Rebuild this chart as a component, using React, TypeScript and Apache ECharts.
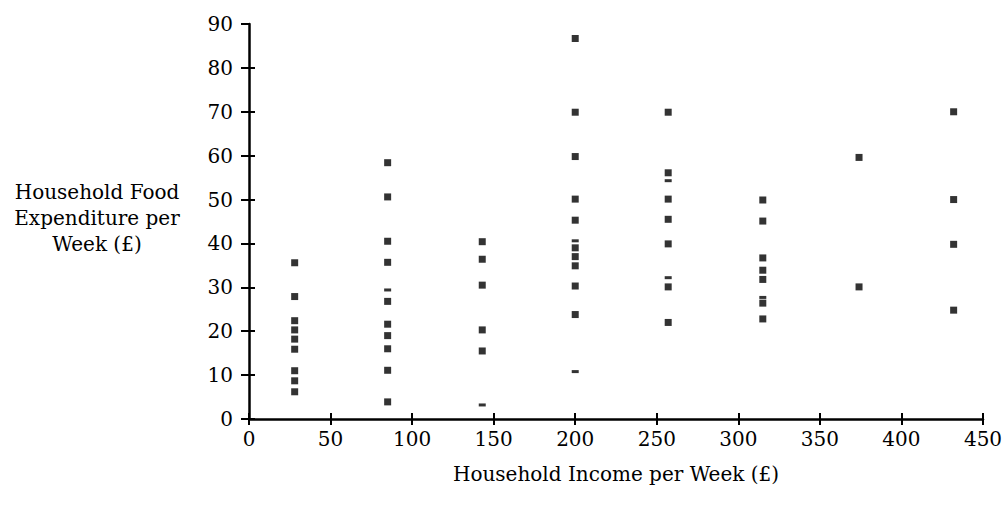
import React, { useEffect, useRef } from "react";
import * as echarts from "echarts";

// Household income groups (£ per week) and food expenditure (£ per week)
const incomes = [28, 85, 143, 200, 257, 315, 374, 432];
const expenditure: number[][] = [
  [35.6, 27.9, 22.4, 20.3, 18.2, 15.9, 11.0, 8.7, 6.2],
  [58.4, 50.6, 40.5, 35.7, 26.8, 21.6, 19.0, 16.0, 11.1, 3.9],
  [40.4, 36.4, 30.5, 20.3, 15.5],
  [86.7, 69.9, 59.8, 50.1, 45.3, 39.0, 37.0, 34.9, 30.3, 23.8],
  [69.9, 56.1, 50.1, 45.5, 39.9, 30.1, 22.0],
  [49.9, 45.1, 36.7, 33.9, 31.8, 26.4, 22.8],
  [59.6, 30.1],
  [70.0, 50.0, 39.8, 24.8],
];
// faintly printed (dash-like) points
const faint: number[][] = [
  [],
  [29.4],
  [3.2],
  [40.6, 10.8],
  [54.3, 32.2],
  [27.7],
  [],
  [],
];
const xTicks = [0, 50, 100, 150, 200, 250, 300, 350, 400, 450];
const yTicks = [0, 10, 20, 30, 40, 50, 60, 70, 80, 90];

const FONT = "DejaVu Serif";

export default function App() {
  const ref = useRef<HTMLDivElement>(null);
  useEffect(() => {
    if (!ref.current) return;
    const chart = echarts.init(ref.current, undefined, { renderer: "svg" });
    const full: number[][] = [];
    incomes.forEach((x, i) => expenditure[i].forEach((y) => full.push([x, y])));
    const dash: number[][] = [];
    incomes.forEach((x, i) => faint[i].forEach((y) => dash.push([x, y])));
    const axisCommon = {
      type: "value" as const,
      splitLine: { show: false },
    };
    chart.setOption({
      animation: false,
      backgroundColor: "#fff",
      grid: { left: 249, right: 22, top: 24, bottom: 89, outerBoundsMode: "none", containLabel: false },
      xAxis: [
        {
          ...axisCommon,
          min: xTicks[0],
          max: xTicks[xTicks.length - 1],
          interval: 50,
          axisLine: { lineStyle: { color: "#000", width: 2.5 } },
          axisTick: { length: 6, lineStyle: { color: "#000", width: 2 } },
          axisLabel: { color: "#000", fontFamily: FONT, fontSize: 20, margin: 10 },
          name: "Household Income per Week (£)",
          nameLocation: "middle",
          nameGap: 45,
          nameTextStyle: { color: "#000", fontFamily: FONT, fontSize: 20 },
        },
        {
          ...axisCommon,
          position: "bottom",
          min: xTicks[0],
          max: xTicks[xTicks.length - 1],
          interval: 50,
          axisLine: { show: false },
          axisTick: { inside: true, length: 6, lineStyle: { color: "#000", width: 2 } },
          axisLabel: { show: false },
        },
      ],
      yAxis: [
        {
          ...axisCommon,
          min: yTicks[0],
          max: yTicks[yTicks.length - 1],
          interval: 10,
          axisLine: { show: true, lineStyle: { color: "#000", width: 2.5 } },
          axisTick: { show: true, length: 8, lineStyle: { color: "#000", width: 2 } },
          axisLabel: { color: "#000", fontFamily: FONT, fontSize: 20, margin: 16 },
        },
        {
          ...axisCommon,
          position: "left",
          min: yTicks[0],
          max: yTicks[yTicks.length - 1],
          interval: 10,
          axisLine: { show: false },
          axisTick: {
            show: true,
            inside: true,
            length: 6,
            customValues: yTicks.slice(0, yTicks.length - 1),
            lineStyle: { color: "#000", width: 2 },
          },
          axisLabel: { show: false },
        },
      ],
      graphic: [
        {
          type: "text",
          x: 97,
          y: 218,
          style: {
            text: "Household Food\nExpenditure per\nWeek (£)",
            fontFamily: FONT,
            fontSize: 20,
            lineHeight: 26,
            fill: "#000",
            align: "center",
            verticalAlign: "middle",
          },
        },
      ],
      series: [
        {
          type: "scatter",
          xAxisIndex: 0,
          yAxisIndex: 0,
          symbol: "rect",
          symbolSize: 7,
          itemStyle: { color: "#000" },
          data: full,
        },
        {
          type: "scatter",
          xAxisIndex: 0,
          yAxisIndex: 0,
          symbol: "rect",
          symbolSize: [7, 3],
          itemStyle: { color: "#000" },
          data: dash,
        },
      ],
    });
    return () => chart.dispose();
  }, []);
  return (
    <div
      ref={ref}
      style={{ position: "absolute", left: 0, top: 0, width: 1005, height: 508 }}
    />
  );
}
